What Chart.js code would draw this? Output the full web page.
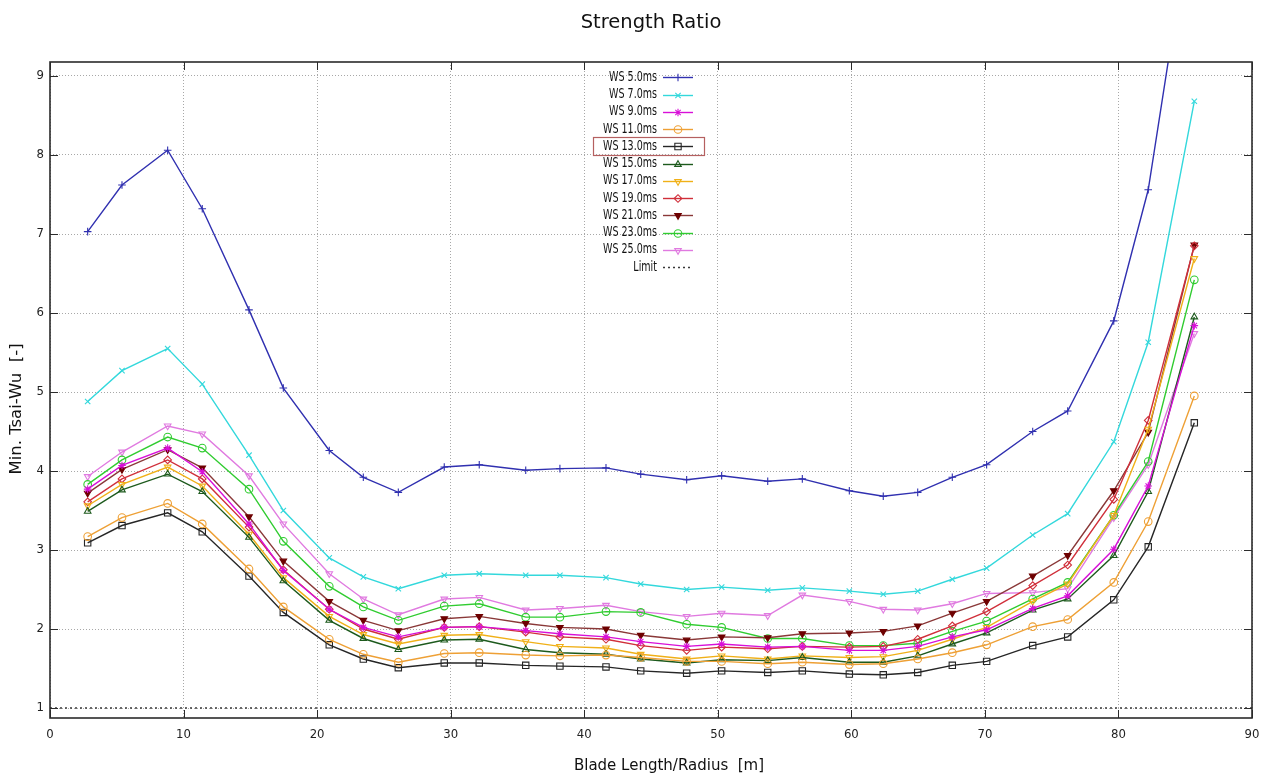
<!DOCTYPE html>
<html>
<head>
<meta charset="utf-8">
<title>Strength Ratio</title>
<script src="https://cdn.jsdelivr.net/npm/chart.js@4.4.1/dist/chart.umd.min.js"></script>
<style>
  html, body { margin: 0; padding: 0; background: #fff; }
  #wrap { width: 1261px; height: 780px; }
</style>
</head>
<body>
<div id="wrap"><canvas id="myChart" width="1261" height="780"></canvas></div>
<script>
// blade stations [m]
const radius = [2.82, 5.39, 8.81, 11.40, 14.90, 17.47, 20.91, 23.46, 26.08, 29.52, 32.14, 35.62, 38.18, 41.63, 44.23,
    47.67, 50.29, 53.74, 56.33, 59.85, 62.39, 64.97, 67.56, 70.13, 73.58, 76.20, 79.65, 82.23, 85.68];

// min. Tsai-Wu per wind speed
const ws5 = [7.03, 7.62, 8.06, 7.32, 6.04, 5.05, 4.26, 3.92, 3.73, 4.05, 4.08, 4.01, 4.03, 4.04, 3.96,
    3.89, 3.94, 3.87, 3.90, 3.75, 3.68, 3.73, 3.92, 4.08, 4.50, 4.76, 5.90, 7.56, 11.3];
const ws7 = [4.88, 5.27, 5.55, 5.10, 4.20, 3.50, 2.90, 2.66, 2.51, 2.68, 2.70, 2.68, 2.68, 2.65, 2.57,
    2.50, 2.53, 2.49, 2.52, 2.48, 2.44, 2.48, 2.63, 2.77, 3.19, 3.46, 4.37, 5.63, 8.68];
const ws9 = [3.77, 4.07, 4.29, 3.99, 3.33, 2.74, 2.25, 2.02, 1.90, 2.02, 2.03, 1.98, 1.94, 1.90, 1.84,
    1.78, 1.81, 1.77, 1.78, 1.73, 1.73, 1.78, 1.90, 1.99, 2.26, 2.42, 3.01, 3.81, 5.84];
const ws11 = [3.17, 3.41, 3.59, 3.33, 2.76, 2.28, 1.87, 1.68, 1.58, 1.69, 1.70, 1.67, 1.66, 1.67, 1.64,
    1.59, 1.59, 1.56, 1.58, 1.55, 1.56, 1.62, 1.70, 1.80, 2.03, 2.12, 2.59, 3.36, 4.95];
const ws13 = [3.09, 3.31, 3.47, 3.23, 2.67, 2.21, 1.80, 1.62, 1.51, 1.57, 1.57, 1.54, 1.53, 1.52, 1.47,
    1.44, 1.47, 1.45, 1.47, 1.43, 1.42, 1.45, 1.54, 1.59, 1.79, 1.90, 2.37, 3.04, 4.61];
const ws15 = [3.49, 3.76, 3.96, 3.74, 3.16, 2.61, 2.11, 1.88, 1.74, 1.86, 1.87, 1.74, 1.70, 1.68, 1.62,
    1.57, 1.61, 1.60, 1.64, 1.58, 1.58, 1.66, 1.81, 1.95, 2.24, 2.38, 2.93, 3.74, 5.95];
const ws17 = [3.56, 3.83, 4.05, 3.81, 3.20, 2.65, 2.16, 1.93, 1.81, 1.92, 1.93, 1.84, 1.78, 1.76, 1.68,
    1.62, 1.66, 1.62, 1.66, 1.64, 1.65, 1.73, 1.87, 2.02, 2.35, 2.57, 3.44, 4.53, 6.69];
const ws19 = [3.61, 3.90, 4.14, 3.90, 3.29, 2.75, 2.25, 2.00, 1.87, 2.02, 2.03, 1.96, 1.90, 1.87, 1.79,
    1.73, 1.77, 1.75, 1.78, 1.77, 1.78, 1.87, 2.04, 2.22, 2.55, 2.81, 3.64, 4.64, 6.85];
const ws21 = [3.72, 4.02, 4.27, 4.04, 3.42, 2.86, 2.35, 2.11, 1.98, 2.13, 2.16, 2.07, 2.02, 2.00, 1.92,
    1.86, 1.90, 1.89, 1.94, 1.95, 1.97, 2.04, 2.20, 2.35, 2.67, 2.93, 3.75, 4.49, 6.86];
const ws23 = [3.83, 4.14, 4.43, 4.29, 3.77, 3.11, 2.54, 2.28, 2.11, 2.29, 2.32, 2.15, 2.15, 2.22, 2.21,
    2.06, 2.02, 1.88, 1.88, 1.79, 1.79, 1.82, 1.97, 2.10, 2.38, 2.59, 3.44, 4.12, 6.42];
const ws25 = [3.93, 4.24, 4.57, 4.47, 3.94, 3.33, 2.70, 2.38, 2.18, 2.38, 2.40, 2.24, 2.26, 2.30, 2.22,
    2.16, 2.20, 2.17, 2.43, 2.35, 2.25, 2.24, 2.32, 2.45, 2.46, 2.51, 3.41, 4.08, 5.74];

const limitX = [0, 90];
const limitY = [1, 1];

const xTicks = [0, 10, 20, 30, 40, 50, 60, 70, 80, 90];
const yTicks = [1, 2, 3, 4, 5, 6, 7, 8, 9];

// line look for each curve (gnuplot-ish)
const series = [
    { label: 'WS 5.0ms', values: ws5, color: '#3030b0', point: 'cross', rot: 0, solid: false },
    { label: 'WS 7.0ms', values: ws7, color: '#33d8dc', point: 'crossRot', rot: 0, solid: false },
    { label: 'WS 9.0ms', values: ws9, color: '#d810d8', point: 'star', rot: 0, solid: false },
    { label: 'WS 11.0ms', values: ws11, color: '#eea035', point: 'circle', rot: 0, solid: false },
    { label: 'WS 13.0ms', values: ws13, color: '#262626', point: 'rect', rot: 0, solid: false },
    { label: 'WS 15.0ms', values: ws15, color: '#1d5a1d', point: 'triangle', rot: 0, solid: false },
    { label: 'WS 17.0ms', values: ws17, color: '#f0b018', point: 'triangle', rot: 180, solid: false },
    { label: 'WS 19.0ms', values: ws19, color: '#d02f3a', point: 'rectRot', rot: 0, solid: false },
    { label: 'WS 21.0ms', values: ws21, color: '#8a3838', point: 'triangle', rot: 180, solid: true, marker: '#6e0000' },
    { label: 'WS 23.0ms', values: ws23, color: '#30cc30', point: 'circle', rot: 0, solid: false },
    { label: 'WS 25.0ms', values: ws25, color: '#e07ae0', point: 'triangle', rot: 180, solid: false },
];

const datasets = series.map(s => ({
    label: s.label,
    data: radius.map((r, i) => ({ x: r, y: s.values[i] })),
    borderColor: s.color,
    borderWidth: 1.4,
    pointStyle: s.point,
    pointRotation: s.rot,
    pointRadius: s.point == 'rect' ? 4.5 : 3.8,
    pointBorderWidth: 1.1,
    pointBorderColor: s.marker || s.color,
    pointBackgroundColor: s.solid ? (s.marker || s.color) : 'rgba(255,255,255,0)',
    fill: false,
    tension: 0,
}));

datasets.push({
    label: 'Limit',
    data: limitX.map((x, i) => ({ x: x, y: limitY[i] })),
    borderColor: '#3a3a3a',
    borderWidth: 1.6,
    borderDash: [2, 3],
    pointRadius: 0,
    fill: false,
});

const narrow = '"Liberation Sans Narrow", "DejaVu Sans Condensed", "Liberation Sans", sans-serif';
const wide = '"DejaVu Sans", Verdana, sans-serif';

function marker(ctx, style, radius, rot, x, y) {
    if (Chart.helpers && Chart.helpers.drawPoint) {
        Chart.helpers.drawPoint(ctx, { pointStyle: style, radius: radius, rotation: rot, borderWidth: 1.1 }, x, y);
        return;
    }
    ctx.beginPath();
    ctx.arc(x, y, radius, 0, Math.PI * 2);
    ctx.fill();
    ctx.stroke();
}

const gnuplotLook = {
    id: 'gnuplotLook',
    afterDatasetsDraw(chart) {
        const { ctx, chartArea: a, scales } = chart;
        ctx.save();
        ctx.strokeStyle = '#2b2b2b';
        ctx.lineWidth = 1;
        ctx.setLineDash([]);
        ctx.beginPath();
        xTicks.forEach(v => {
            const px = Math.round(scales.x.getPixelForValue(v)) + 0.5;
            ctx.moveTo(px, a.bottom); ctx.lineTo(px, a.bottom - 8);
            ctx.moveTo(px, a.top); ctx.lineTo(px, a.top + 8);
        });
        yTicks.forEach(v => {
            const py = Math.round(scales.y.getPixelForValue(v)) + 0.5;
            ctx.moveTo(a.left, py); ctx.lineTo(a.left + 8, py);
            ctx.moveTo(a.right, py); ctx.lineTo(a.right - 8, py);
        });
        ctx.stroke();
        ctx.lineWidth = 1.6;
        ctx.strokeRect(a.left, a.top, a.right - a.left, a.bottom - a.top);
        ctx.restore();
    },
    afterDraw(chart) {
        const { ctx, chartArea: a } = chart;
        ctx.save();
        ctx.fillStyle = '#111';

        // title + axis labels
        ctx.font = '19.5px ' + wide;
        ctx.textAlign = 'center';
        ctx.textBaseline = 'middle';
        ctx.fillText('Strength Ratio', (a.left + a.right) / 2, 23);
        ctx.font = '15px ' + wide;
        ctx.fillText('Blade Length/Radius  [m]', 669, 766);
        ctx.save();
        ctx.translate(17, 409);
        ctx.rotate(-Math.PI / 2);
        ctx.font = '16.5px ' + wide;
        ctx.fillText('Min. Tsai-Wu  [-]', 0, 0);
        ctx.restore();

        // key inside the plot
        const textRight = 657, lineL = 663, lineR = 693, top = 77.3, step = 17.25;
        ctx.font = '14px ' + narrow;
        ctx.textAlign = 'right';
        const squeeze = Math.min(1, 54 / ctx.measureText('WS 25.0ms').width);
        chart.data.datasets.forEach((ds, i) => {
            const y = top + i * step;
            ctx.fillStyle = '#111';
            ctx.save();
            ctx.translate(textRight, y);
            ctx.scale(squeeze, 1);
            ctx.fillText(ds.label, 0, 0);
            ctx.restore();
            ctx.strokeStyle = ds.borderColor;
            ctx.lineWidth = ds.borderWidth;
            ctx.setLineDash(ds.borderDash || []);
            ctx.beginPath();
            ctx.moveTo(lineL, Math.round(y) + 0.5);
            ctx.lineTo(lineR, Math.round(y) + 0.5);
            ctx.stroke();
            ctx.setLineDash([]);
            if (ds.pointRadius > 0) {
                ctx.strokeStyle = ds.pointBorderColor;
                ctx.fillStyle = ds.pointBackgroundColor;
                ctx.lineWidth = 1.1;
                marker(ctx, ds.pointStyle, ds.pointRadius, ds.pointRotation, (lineL + lineR) / 2, Math.round(y) + 0.5);
            }
        });
        // highlighted entry box (WS 13.0ms)
        ctx.strokeStyle = '#b56060';
        ctx.lineWidth = 1.2;
        ctx.strokeRect(593.5, 137.5, 111, 18);
        ctx.restore();
    }
};

const config = {
    type: 'line',
    data: { datasets: datasets },
    options: {
        responsive: false,
        animation: false,
        devicePixelRatio: 1,
        layout: { padding: { top: 62, right: 9, left: 0, bottom: 0 } },
        plugins: {
            legend: { display: false },
            title: { display: false },
            tooltip: { enabled: false },
        },
        scales: {
            x: {
                type: 'linear',
                min: 0,
                max: 90,
                afterBuildTicks: (scale) => { scale.ticks = xTicks.map(v => ({ value: v })) },
                afterFit: (scale) => { scale.height = 62; scale.paddingRight = 0; scale.paddingLeft = 0 },
                ticks: { color: '#222', font: { family: narrow, size: 13 }, padding: 9, maxRotation: 0 },
                grid: { color: '#a8a8a8', lineWidth: 1, drawTicks: false },
                border: { display: false, dash: [1, 2] },
            },
            y: {
                type: 'linear',
                min: 1 - 10 / 79,
                max: 9 + 14 / 79,
                afterBuildTicks: (scale) => { scale.ticks = yTicks.map(v => ({ value: v })) },
                afterFit: (scale) => { scale.width = 50 },
                ticks: { color: '#222', font: { family: narrow, size: 13 }, padding: 6 },
                grid: { color: '#a8a8a8', lineWidth: 1, drawTicks: false },
                border: { display: false, dash: [1, 2] },
            },
        },
    },
    plugins: [gnuplotLook],
};

const myChart = new Chart(document.querySelector('#myChart'), config);
</script>
</body>
</html>
